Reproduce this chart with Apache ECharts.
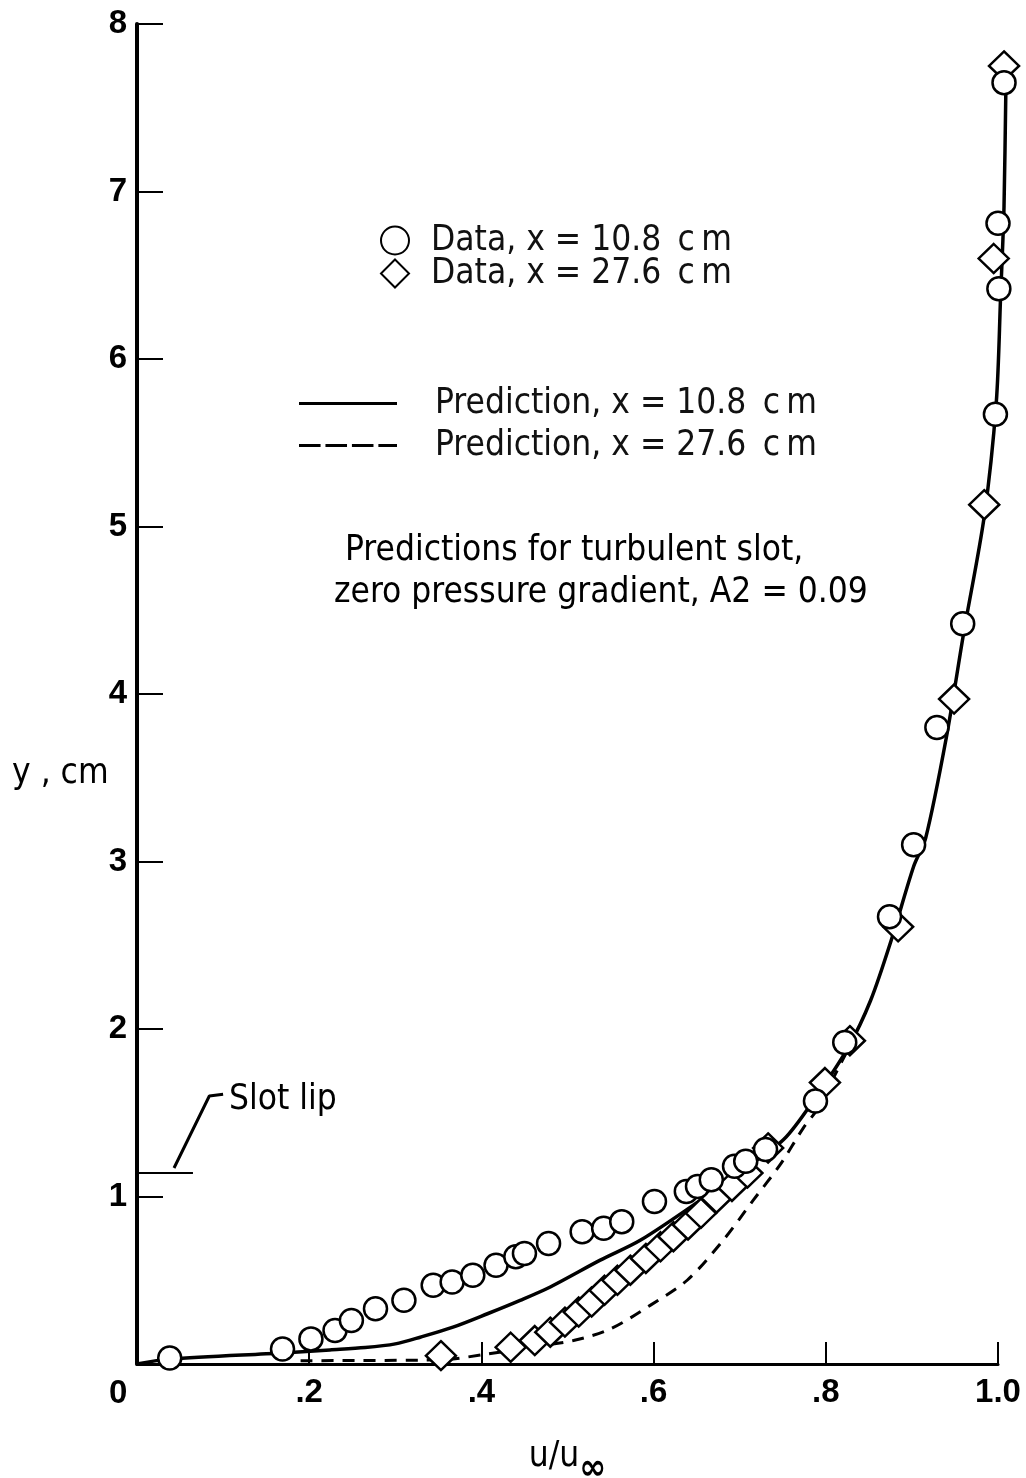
<!DOCTYPE html>
<html><head><meta charset="utf-8">
<script src="https://cdn.jsdelivr.net/npm/echarts@6/dist/echarts.min.js"></script>
<style>html,body{margin:0;padding:0;background:#fff}#c{width:1026px;height:1478px}</style>
</head><body><div id="c"></div>
<script>
// Data, x = 10.8 cm (circles)
const circleX = [0.038,0.169,0.202,0.230,0.249,0.277,0.310,0.344,0.366,0.390,0.417,0.440,0.450,0.478,0.517,0.542,0.563,0.601,0.638,0.651,0.667,0.694,0.707,0.730,0.788,0.822,0.874,0.902,0.929,0.959,0.997,1.001,1.000,1.007];
const circleY = [0.036,0.09,0.15,0.20,0.26,0.33,0.38,0.47,0.49,0.53,0.59,0.64,0.66,0.72,0.79,0.81,0.85,0.97,1.03,1.06,1.10,1.18,1.21,1.28,1.57,1.92,2.67,3.10,3.80,4.42,5.67,6.42,6.81,7.65];
// Data, x = 27.6 cm (diamonds)
const diamondX = [0.353,0.434,0.462,0.480,0.497,0.513,0.528,0.543,0.558,0.573,0.591,0.608,0.623,0.640,0.655,0.673,0.691,0.709,0.733,0.799,0.828,0.884,0.949,0.984,0.995,1.007];
const diamondY = [0.05,0.10,0.14,0.19,0.25,0.31,0.37,0.44,0.50,0.56,0.63,0.70,0.76,0.83,0.90,0.99,1.06,1.14,1.29,1.68,1.93,2.61,3.97,5.13,6.60,7.75];
// Prediction, x = 10.8 cm (solid)
const predSolidX = [0,0.038,0.169,0.224,0.265,0.300,0.329,0.367,0.407,0.445,0.480,0.538,0.585,0.655,0.701,0.751,0.788,0.826,0.852,0.876,0.902,0.916,0.940,0.960,0.984,0.998,1.003,1.007,1.009,1.010];
const predSolidY = [0,0.030,0.066,0.084,0.098,0.120,0.160,0.22,0.30,0.38,0.46,0.62,0.74,0.98,1.15,1.34,1.59,1.89,2.17,2.53,2.97,3.14,3.74,4.36,5.06,5.74,6.37,6.91,7.56,7.70];
// Prediction, x = 27.6 cm (dashed)
const predDashX = [0.19,0.353,0.407,0.457,0.507,0.550,0.596,0.639,0.681,0.716,0.747,0.774,0.790,0.811,0.828];
const predDashY = [0.02,0.025,0.06,0.10,0.14,0.21,0.35,0.50,0.74,0.98,1.19,1.41,1.52,1.73,1.90];
// Slot lip annotation (y = 1.14 cm)
const slotLipX = [0, 0.065];
const slotLipY = [1.14, 1.14];
const leaderX = [0.043, 0.084, 0.100];
const leaderY = [1.17, 1.60, 1.61];

const xTicks = ['', '.2', '.4', '.6', '.8', '1.0'];

const zip = (a, b) => a.map((v, i) => [v, b[i]]);
const FONT = '"Liberation Sans Narrow","DejaVu Sans Condensed",sans-serif';
const TICKFONT = '"Liberation Sans","DejaVu Sans",sans-serif';

// Plot area: visible axes on grid 0 (0..1.0); marks on grid 1 which shares the same scale
// but extends a little past u/u∞ = 1.0 so the points just beyond 1.0 are not clipped.
const LEFT = 137, RIGHT = 28, W = 1026 - LEFT - RIGHT;
const RIGHT2 = 11, X2MAX = (1026 - LEFT - RIGHT2) / W;
const NAME_LEG1 = ['Data, x = 10.8 \u2009c\u2009m', 'Data, x = 27.6 \u2009c\u2009m'];
const NAME_LEG2 = ['Prediction, x = 10.8 \u2009c\u2009m', 'Prediction, x = 27.6 \u2009c\u2009m'];

const chart = echarts.init(document.getElementById('c'), null, {renderer: 'canvas'});
chart.setOption({
  backgroundColor: '#fff',
  animation: false,
  grid: [
    {left: LEFT, right: RIGHT, top: 24, bottom: 114, outerBoundsMode: 'none', containLabel: false},
    {left: LEFT, right: RIGHT2, top: 24, bottom: 114, outerBoundsMode: 'none', containLabel: false}
  ],
  legend: [
    {data: [{name: NAME_LEG1[0], icon: 'circle'}, {name: NAME_LEG1[1], icon: 'diamond'}],
     orient: 'vertical', left: 375, top: 218, itemWidth: 28, itemHeight: 28, itemGap: -2,
     textStyle: {fontFamily: FONT, fontSize: 35, color: '#111', padding: [0,0,0,17]}, selectedMode: false},
    {data: [{name: NAME_LEG2[0], icon: 'rect'},
            {name: NAME_LEG2[1], icon: 'path://M0,0h22v3h-22z M27,0h22v3h-22z M54,0h22v3h-22z M81,0h19v3h-19z'}],
     orient: 'vertical', left: 294, top: 381, itemWidth: 98, itemHeight: 3, itemGap: 7,
     textStyle: {fontFamily: FONT, fontSize: 35, color: '#111', padding: [0,0,0,33]}, selectedMode: false}
  ],
  xAxis: [{
    type: 'value', gridIndex: 0, min: 0, max: 1.0, interval: 0.2,
    axisLine: {show: true, lineStyle: {color: '#000', width: 3}},
    axisTick: {show: true, inside: true, length: 22, lineStyle: {color: '#000', width: 2}},
    splitLine: {show: false},
    axisLabel: {margin: 12, fontFamily: TICKFONT, fontWeight: 'bold', fontSize: 33, color: '#000',
      formatter: v => xTicks[Math.round(v * 5)]},
    name: 'u/u{s|∞}', nameLocation: 'middle', nameGap: 62,
    nameTextStyle: {fontFamily: FONT, fontSize: 35, color: '#000',
      rich: {s: {fontFamily: FONT, fontSize: 36, fontWeight: 'bold', verticalAlign: 'bottom', padding: [26,0,0,0], color: '#000'}}}
  }, {
    type: 'value', gridIndex: 1, min: 0, max: X2MAX, show: false
  }],
  yAxis: [{
    type: 'value', gridIndex: 0, min: 0, max: 8, interval: 1,
    axisLine: {show: true, lineStyle: {color: '#000', width: 4}},
    axisTick: {show: true, inside: true, length: 26, lineStyle: {color: '#000', width: 2}},
    splitLine: {show: false},
    axisLabel: {margin: 10, fontFamily: TICKFONT, fontWeight: 'bold', fontSize: 33, color: '#000',
      formatter: v => (v === 0 ? '' : String(v))}
  }, {
    type: 'value', gridIndex: 1, min: 0, max: 8, show: false
  }],
  graphic: [
    {type: 'text', left: 109, top: 1377, style: {text: '0', font: 'bold 33px ' + TICKFONT, fill: '#000'}},
    {type: 'text', left: 12, top: 756, style: {text: 'y , cm', font: '35px ' + FONT, fill: '#000'}},
    {type: 'text', left: 229, top: 1082, style: {text: 'Slot lip', font: '35px ' + FONT, fill: '#000'}},
    {type: 'text', left: 345, top: 533, style: {text: 'Predictions for turbulent slot,', font: '35px ' + FONT, fill: '#000'}},
    {type: 'text', left: 334, top: 575, style: {text: 'zero pressure gradient, A2 = 0.09', font: '35px ' + FONT, fill: '#000'}}
  ],
  series: [
    {name: 'slotlip', type: 'line', xAxisIndex: 1, yAxisIndex: 1, data: zip(slotLipX, slotLipY), symbol: 'none', silent: true,
     lineStyle: {color: '#000', width: 2}, z: 3},
    {name: 'leader', type: 'line', xAxisIndex: 1, yAxisIndex: 1, data: zip(leaderX, leaderY), symbol: 'none', silent: true,
     lineStyle: {color: '#000', width: 3}, z: 3},
    {name: NAME_LEG2[0], type: 'line', xAxisIndex: 1, yAxisIndex: 1, data: zip(predSolidX, predSolidY), symbol: 'none', smooth: 0.3,
     lineStyle: {color: '#000', width: 3.5}, itemStyle: {color: '#000'}, z: 3},
    {name: NAME_LEG2[1], type: 'line', xAxisIndex: 1, yAxisIndex: 1, data: zip(predDashX, predDashY), symbol: 'none', smooth: 0.3,
     lineStyle: {color: '#000', width: 3, type: [12, 9]}, itemStyle: {color: '#000'}, z: 3},
    {name: NAME_LEG1[1], type: 'scatter', xAxisIndex: 1, yAxisIndex: 1, data: zip(diamondX, diamondY), symbol: 'diamond', symbolSize: [30, 29], clip: false,
     itemStyle: {color: '#fff', borderColor: '#000', borderWidth: 2.5, opacity: 1}, z: 4},
    {name: NAME_LEG1[0], type: 'scatter', xAxisIndex: 1, yAxisIndex: 1, data: zip(circleX, circleY), symbol: 'circle', symbolSize: 23, clip: false,
     itemStyle: {color: '#fff', borderColor: '#000', borderWidth: 2.5, opacity: 1}, z: 5}
  ]
});
</script></body></html>
